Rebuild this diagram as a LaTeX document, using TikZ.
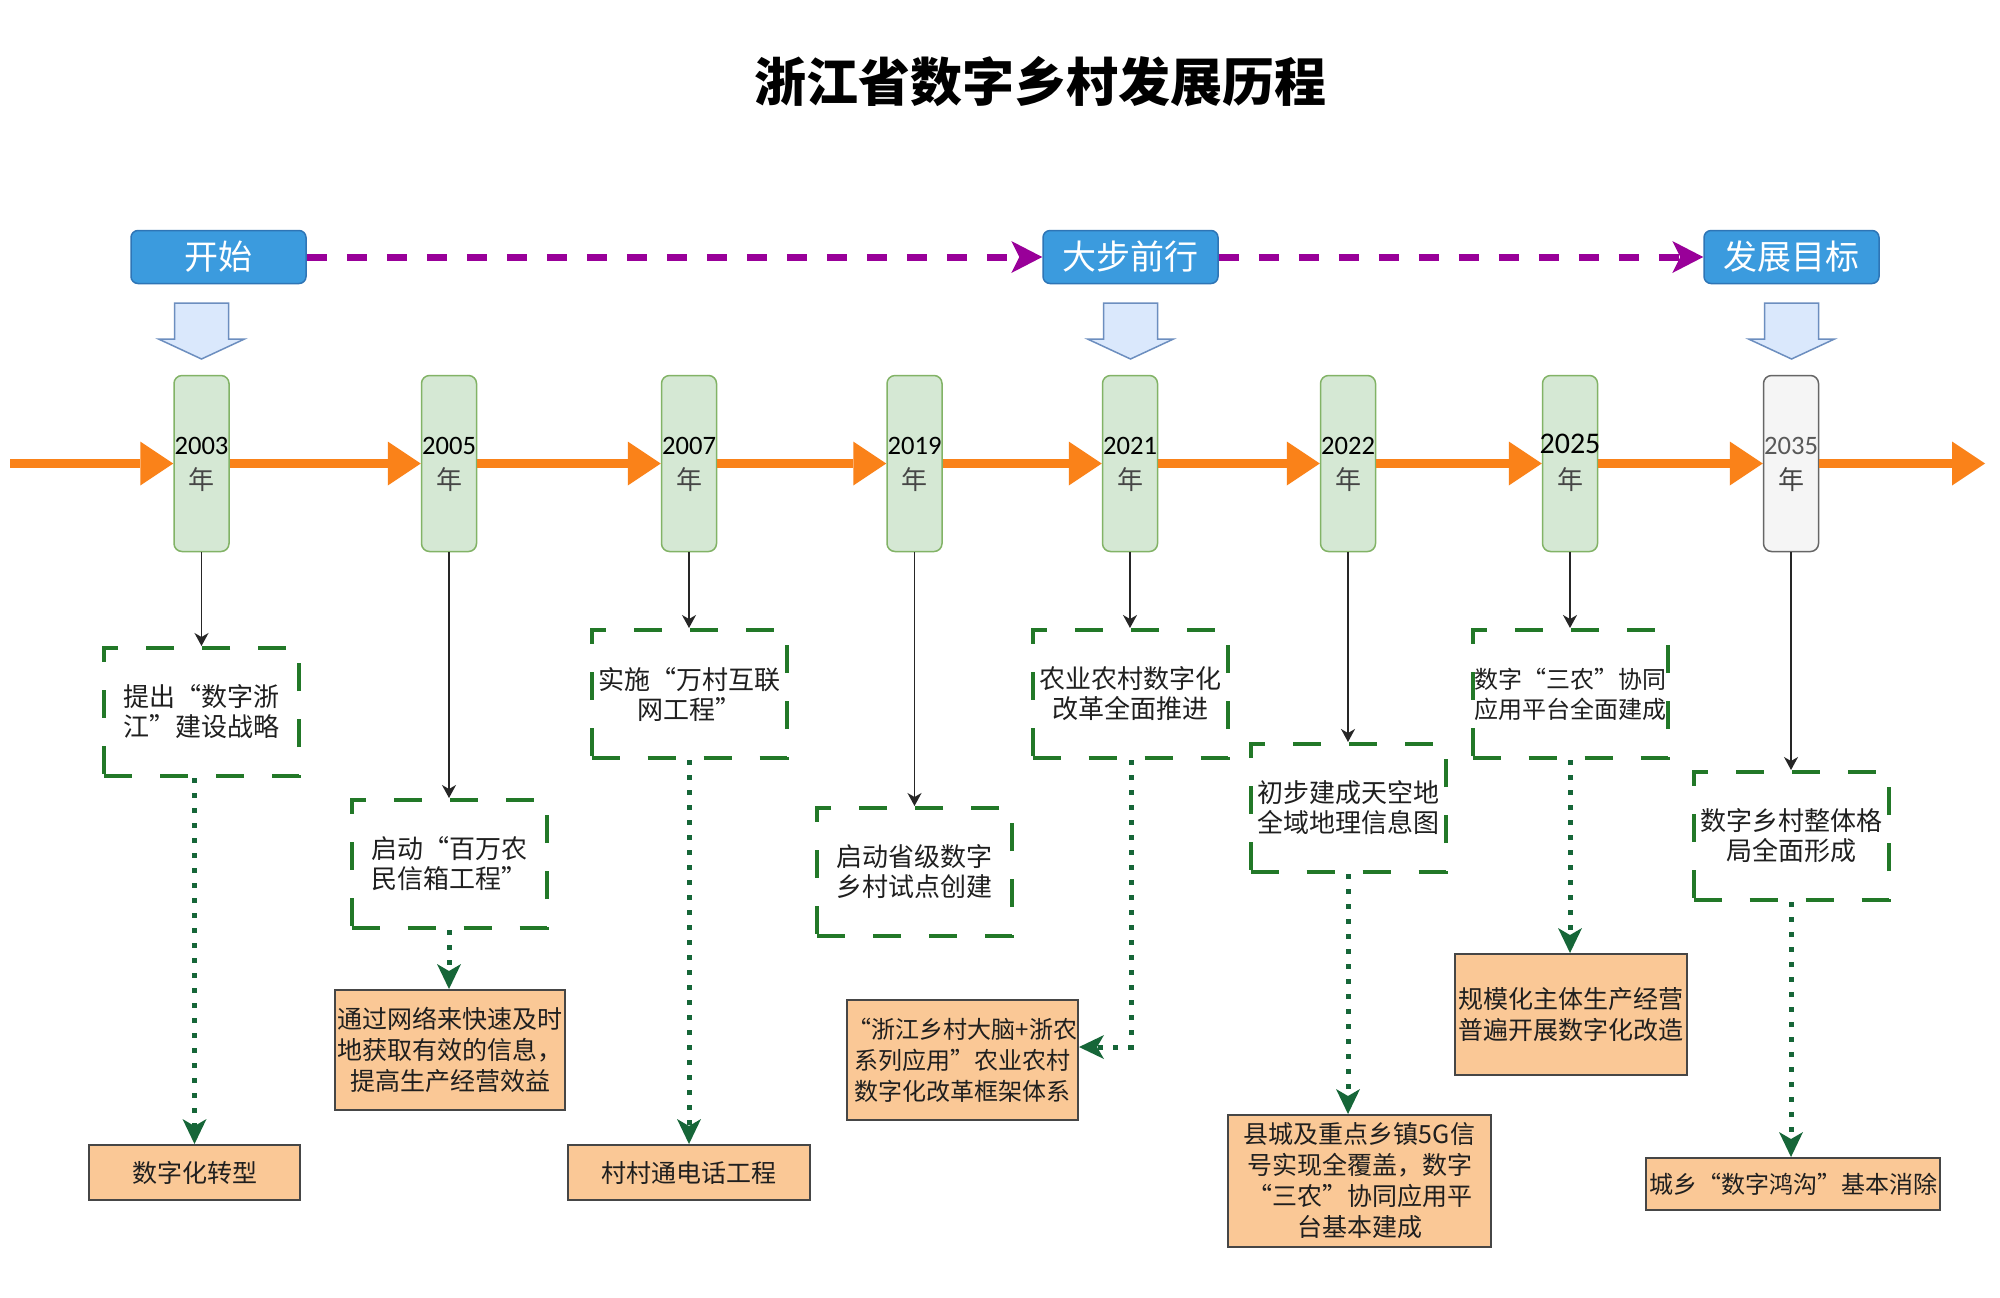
\documentclass[tikz,border=0pt]{standalone}
\usepackage{fontspec}
\setmainfont{Liberation Serif}
\newfontfamily\cjk{Noto Sans CJK SC}
\newfontfamily\yearfont{Carlito}
\usetikzlibrary{arrows.meta}
\definecolor{bluefill}{RGB}{59,155,222}
\definecolor{blueline}{RGB}{46,117,182}
\definecolor{purp}{RGB}{153,0,153}
\definecolor{bafill}{RGB}{218,232,252}
\definecolor{baline}{RGB}{108,142,191}
\definecolor{yfill}{RGB}{213,232,212}
\definecolor{yline}{RGB}{130,179,102}
\definecolor{gfill}{RGB}{245,245,245}
\definecolor{gline}{RGB}{102,102,102}
\definecolor{orng}{RGB}{250,130,25}
\definecolor{dgreen}{RGB}{34,120,40}
\definecolor{dotgreen}{RGB}{22,102,56}
\definecolor{resfill}{RGB}{250,200,150}
\definecolor{resline}{RGB}{70,70,70}
\definecolor{nian}{RGB}{70,70,70}
\begin{document}
\begin{tikzpicture}[x=0.5pt,y=-0.5pt,
  phase/.style={rectangle, rounded corners=3.5pt, fill=bluefill, draw=blueline, line width=0.75pt,
    minimum width=87.5pt, minimum height=26.5pt, inner sep=0pt, text=white,
    font=\cjk\fontsize{17pt}{20pt}\selectfont},
  purpline/.style={draw=purp, line width=3.5pt, dash pattern=on 10pt off 10pt,
    -{Stealth[length=15.5pt,width=16pt,inset=4pt,line width=0pt]}},
  blockarrow/.style={fill=bafill, draw=baline, line width=0.75pt, line join=miter},
  yearbox/.style={rectangle, rounded corners=4pt, fill=yfill, draw=yline, line width=0.75pt,
    minimum width=27.5pt, minimum height=88pt, inner sep=0pt},
  yearbox2/.style={yearbox, fill=gfill, draw=gline},
  yeartxt/.style={inner sep=0pt, font=\yearfont\fontsize{13.3pt}{15pt}\selectfont, text=black},
  niantxt/.style={inner sep=0pt, font=\cjk\fontsize{13pt}{15pt}\selectfont, text=nian},
  tl/.style={draw=orng, line width=4.5pt, -{Triangle[length=16.5pt,width=22pt,line width=0pt]}},
  dashbox/.style={rectangle, draw=dgreen, line width=2pt, dash pattern=on 14pt off 14pt,
    minimum width=97.5pt, minimum height=64pt, inner sep=0pt, align=center, text=black!88,
    font=\cjk\fontsize{13pt}{15pt}\selectfont},
  resbox/.style={rectangle, fill=resfill, draw=resline, line width=1pt, inner sep=0pt,
    align=center, text=black!88, font=\cjk\fontsize{12.5pt}{15.5pt}\selectfont},
  blk/.style={draw=black!85, line width=0.75pt, -{Stealth[length=6.5pt,width=7pt,inset=2pt]}},
  dotarrow/.style={draw=dotgreen, line width=2.5pt, dash pattern=on 2.5pt off 5pt,
    -{Stealth[length=12.5pt,width=12pt,inset=3.5pt,line width=0pt]}}
]
\fill[white] (0,0) rectangle (2000,1297);
\useasboundingbox (0,0) rectangle (2000,1297);

% title
\node[inner sep=0pt, font=\cjk\bfseries\fontsize{26pt}{30pt}\selectfont] (title) at (1040,82) {浙江省数字乡村发展历程};

% phase boxes
\node[phase] (start) at (218.5,257) {开始};
\node[phase] (mid) at (1130.5,257) {大步前行};
\node[phase] (goal) at (1791.5,257) {发展目标};
\draw[purpline] (start.east) -- (mid.west);
\draw[purpline] (mid.east) -- (goal.west);

% block arrows
\foreach \c in {201.5,1130.5,1791.5}{
  \draw[blockarrow] ({\c-27},303) -- ({\c+27},303) -- ({\c+27},339) -- ({\c+43},339) -- (\c,359)
    -- ({\c-43},339) -- ({\c-27},339) -- cycle;
}

% year boxes
\node[yearbox] (y2003) at (201.5,463.5) {};
\node[yearbox] (y2005) at (449,463.5) {};
\node[yearbox] (y2007) at (689,463.5) {};
\node[yearbox] (y2019) at (914.5,463.5) {};
\node[yearbox] (y2021) at (1130,463.5) {};
\node[yearbox] (y2022) at (1348,463.5) {};
\node[yearbox] (y2025) at (1570,463.5) {};
\node[yearbox2] (y2035) at (1791,463.5) {};

% timeline arrows
\coordinate (tlstart) at (10,463.5);
\coordinate (tlend) at (1985,463.5);
\draw[tl] (tlstart) -- (y2003.west);
\draw[tl] (y2003.east) -- (y2005.west);
\draw[tl] (y2005.east) -- (y2007.west);
\draw[tl] (y2007.east) -- (y2019.west);
\draw[tl] (y2019.east) -- (y2021.west);
\draw[tl] (y2021.east) -- (y2022.west);
\draw[tl] (y2022.east) -- (y2025.west);
\draw[tl] (y2025.east) -- (y2035.west);
\draw[tl] (y2035.east) -- (tlend);

% year texts
\node[yeartxt] (t2003) at (201.5,446) {2003};
\node[yeartxt] (t2005) at (449,446) {2005};
\node[yeartxt] (t2007) at (689,446) {2007};
\node[yeartxt] (t2019) at (914.5,446) {2019};
\node[yeartxt] (t2021) at (1130,446) {2021};
\node[yeartxt] (t2022) at (1348,446) {2022};
\node[yeartxt, font=\yearfont\fontsize{15pt}{17pt}\selectfont] (t2025) at (1570,444) {2025};
\node[yeartxt, text=black!65] (t2035) at (1791,446) {2035};
\foreach \n/\x in {2003/201.5,2005/449,2007/689,2019/914.5,2021/1130,2022/1348,2025/1570,2035/1791}{
  \node[niantxt] (n\n) at (\x,480) {年};
}

% dashed event boxes
\node[dashbox] (d2003) at (201.5,712) {提出“数字浙\\江”建设战略};
\node[dashbox] (d2005) at (449,864) {启动“百万农\\民信箱工程”};
\node[dashbox] (d2007) at (689,694) {实施“万村互联\\网工程”};
\node[dashbox] (d2019) at (914.5,872) {启动省级数字\\乡村试点创建};
\node[dashbox] (d2021) at (1130,694) {农业农村数字化\\改革全面推进};
\node[dashbox] (d2022) at (1348,808) {初步建成天空地\\全域地理信息图};
\node[dashbox, font=\cjk\fontsize{12pt}{15pt}\selectfont] (d2025) at (1570,694) {数字“三农”协同\\应用平台全面建成};
\node[dashbox] (d2035) at (1791,836) {数字乡村整体格\\局全面形成};

% result boxes
\node[resbox, minimum width=105.5pt, minimum height=27.5pt] (o2003) at (194.5,1172.5) {数字化转型};
\node[resbox, minimum width=115pt, minimum height=60pt] (o2005) at (450,1050) {通过网络来快速及时\\地获取有效的信息，\\提高生产经营效益};
\node[resbox, minimum width=121pt, minimum height=27.5pt] (o2007) at (689,1172.5) {村村通电话工程};
\node[resbox, minimum width=115.5pt, minimum height=60pt, font=\cjk\fontsize{12pt}{15.5pt}\selectfont] (o2021) at (962.5,1060) {“浙江乡村大脑+浙农\\系列应用”农业农村\\数字化改革框架体系};
\node[resbox, minimum width=131.5pt, minimum height=66pt] (o2022) at (1359.5,1181) {县城及重点乡镇5G信\\号实现全覆盖，数字\\“三农”协同应用平\\台基本建成};
\node[resbox, minimum width=116pt, minimum height=60.5pt] (o2025) at (1571,1014.5) {规模化主体生产经营\\普遍开展数字化改造};
\node[resbox, minimum width=147pt, minimum height=26pt, font=\cjk\fontsize{12pt}{15pt}\selectfont] (o2035) at (1793,1184) {城乡“数字鸿沟”基本消除};

% black arrows
\draw[blk] (y2003.south) -- (d2003.north);
\draw[blk] (y2005.south) -- (d2005.north);
\draw[blk] (y2007.south) -- (d2007.north);
\draw[blk] (y2019.south) -- (d2019.north);
\draw[blk] (y2021.south) -- (d2021.north);
\draw[blk] (y2022.south) -- (d2022.north);
\draw[blk] (y2025.south) -- (d2025.north);
\draw[blk] (y2035.south) -- (d2035.north);

% dotted arrows
\draw[dotarrow] (d2003.south -| o2003.north) -- (o2003.north);
\draw[dotarrow] (d2005.south) -- (d2005.south |- o2005.north);
\draw[dotarrow] (d2007.south) -- (o2007.north);
\coordinate (bend) at (1131,1047);
\draw[dotarrow] (d2021.south -| bend) -- (bend) -- (bend -| o2021.east);
\draw[dotarrow] (d2022.south) -- (d2022.south |- o2022.north);
\draw[dotarrow] (d2025.south) -- (d2025.south |- o2025.north);
\draw[dotarrow] (d2035.south) -- (d2035.south |- o2035.north);
\end{tikzpicture}
\end{document}
